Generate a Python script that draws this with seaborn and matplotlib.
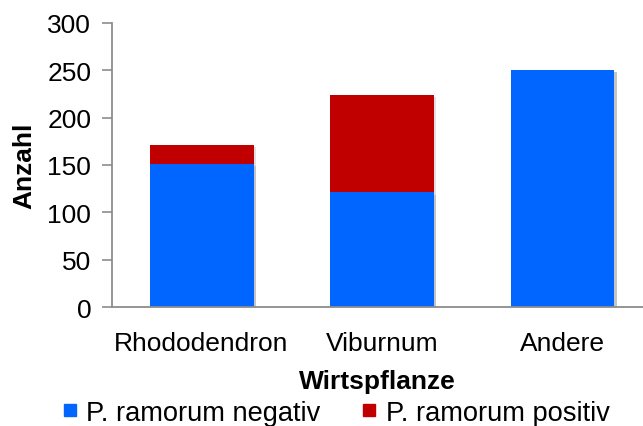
import matplotlib
matplotlib.use("Agg")
import matplotlib.pyplot as plt
import matplotlib.patheffects as pe
from matplotlib.lines import Line2D
import seaborn as sns
import pandas as pd

categories = ["Rhododendron", "Viburnum", "Andere"]
negativ = [151, 121, 250]
positiv = [20, 103, 0]
series_labels = ["P. ramorum negativ", "P. ramorum positiv"]
yticks = [0, 50, 100, 150, 200, 250, 300]

sns.set_theme(style="white")
plt.rcParams["font.family"] = ["Liberation Sans", "DejaVu Sans"]
plt.rcParams["text.color"] = "black"
plt.rcParams["axes.labelcolor"] = "black"
plt.rcParams["xtick.color"] = "black"
plt.rcParams["ytick.color"] = "black"

blue = "#0066FF"
red = "#C00000"
grey = "#8C8C8C"

df = pd.DataFrame({
    "Wirtspflanze": categories,
    "negativ": negativ,
    "total": [n + p for n, p in zip(negativ, positiv)],
})

fig = plt.figure(figsize=(6.43, 4.27), dpi=100)
ax = fig.add_axes([112 / 643, 1 - 308 / 427, 1 - 112 / 643, (308 - 24) / 427])

shadow = [pe.SimplePatchShadow(offset=(1.5, -1.5), shadow_rgbFace="#000000", alpha=0.12), pe.Normal()]
sns.barplot(data=df, x="Wirtspflanze", y="total", color=red, saturation=1,
            width=0.576, ax=ax, linewidth=0)
sns.barplot(data=df, x="Wirtspflanze", y="negativ", color=blue, saturation=1,
            width=0.576, ax=ax, linewidth=0)
for p in ax.patches:
    p.set_path_effects(shadow)

ax.set_xlim(-0.496, 2.446)
ax.set_ylim(0, 300)
ax.set_yticks(yticks)
ax.set_yticklabels([str(t) for t in yticks], fontsize=19)
ax.tick_params(axis="y", direction="out", length=7, width=1.2, color=grey, pad=8, left=True,
               labelcolor="black")
ax.tick_params(axis="x", length=0, pad=17, labelsize=19, labelcolor="black")
for s in ["top", "right"]:
    ax.spines[s].set_visible(False)
for s in ["left", "bottom"]:
    ax.spines[s].set_color(grey)
    ax.spines[s].set_linewidth(1.3)

ax.set_xlabel("Wirtspflanze", fontsize=19, fontweight="bold", labelpad=10, color="black")
ax.set_ylabel("Anzahl", fontsize=19, fontweight="bold", labelpad=8, color="black")

handles = [Line2D([], [], marker="s", linestyle="none", markersize=8.5, color=blue),
           Line2D([], [], marker="s", linestyle="none", markersize=8.5, color=red)]
fig.legend(handles, series_labels, loc="center", bbox_to_anchor=(0.522, 1 - 414 / 427),
           ncol=2, frameon=False, fontsize=19.6, handlelength=0.6, handletextpad=0.3,
           columnspacing=1.5, borderpad=0, labelcolor="black")

fig.savefig("out.png", dpi=100)
